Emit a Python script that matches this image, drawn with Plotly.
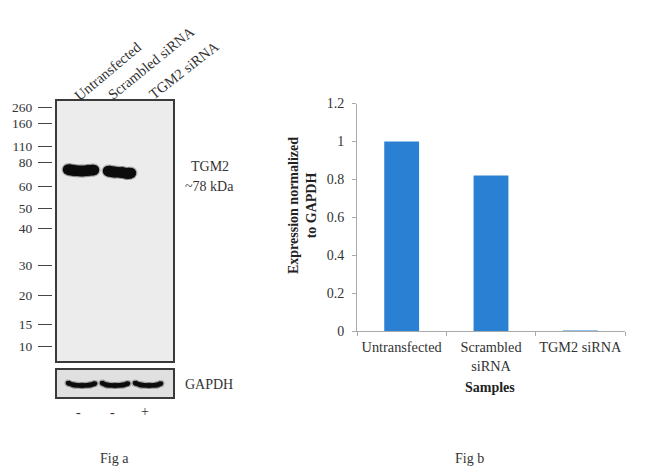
import plotly.graph_objects as go

W, H = 650, 475
# Bar chart
samples = ["Untransfected", "Scrambled<br>siRNA", "TGM2 siRNA"]
expression = [1.0, 0.82, -0.006]
bar_ticks = [0, 0.2, 0.4, 0.6, 0.8, 1, 1.2]
bar_tick_text = ["0", "0.2", "0.4", "0.6", "0.8", "1", "1.2"]

# Western blot: migration distance of each size marker (kDa)
marker_kda = ["260", "160", "110", "80", "60", "50", "40", "30", "20", "15", "10"]
marker_pos = [6, 22, 45, 61, 85, 107, 127, 164, 194, 223, 245]

# Bands: horizontal lane position and migration distance
tgm2_lane1_x = [11, 17, 25, 31, 37]
tgm2_lane1_y = [68.5, 69.5, 70, 69.5, 69]
tgm2_lane2_x = [51, 57, 65, 70, 74]
tgm2_lane2_y = [70, 71, 71.5, 72.5, 72]
gapdh_lane1_x = [11, 17, 25, 33, 38]
gapdh_lane2_x = [45, 50, 58, 66, 71]
gapdh_lane3_x = [78, 84, 92, 100, 104]
gapdh_y = [13, 15, 15.5, 15, 13.5]

PANEL_X = (57, 173)
BLOT_Y = (101, 361)
GAPDH_Y = (370, 397)
BAR_X = (357, 625)
BAR_Y = (103.5, 331)


def dx(p):
    return [p[0] / W, p[1] / W]


def dy(p):
    return [1 - p[1] / H, 1 - p[0] / H]


fig = go.Figure()


def band(x, y, ya, width, xa="x"):
    fig.add_trace(go.Scatter(x=x, y=y, xaxis=xa, yaxis=ya, mode="lines+markers", hoverinfo="skip",
                             line=dict(color="rgba(40,40,40,0.3)", width=width + 2.5, shape="spline"),
                             marker=dict(color="rgba(40,40,40,0.3)", size=width + 2.5, line_width=0)))
    fig.add_trace(go.Scatter(x=x, y=y, xaxis=xa, yaxis=ya, mode="lines+markers", hoverinfo="skip",
                             line=dict(color="#0c0c0c", width=width, shape="spline"),
                             marker=dict(color="#0c0c0c", size=width, line_width=0)))


band(tgm2_lane1_x, tgm2_lane1_y, "y", 10.5)
band(tgm2_lane2_x, tgm2_lane2_y, "y", 10.5)
band(gapdh_lane1_x, gapdh_y, "y4", 4.6, "x4")
band(gapdh_lane2_x, gapdh_y, "y4", 4.6, "x4")
band(gapdh_lane3_x, gapdh_y, "y4", 4.6, "x4")

fig.add_trace(go.Scatter(x=[0] * len(marker_pos), y=marker_pos, xaxis="x", yaxis="y2",
                         mode="markers", marker=dict(opacity=0), hoverinfo="skip"))

fig.add_trace(go.Bar(x=samples, y=expression, xaxis="x3", yaxis="y3", width=0.39,
                     marker=dict(color="#2a80d2", line=dict(color="#2a80d2", width=0)),
                     cliponaxis=False))
fig.add_trace(go.Scatter(x=[samples[2]], y=[expression[2]], xaxis="x3", yaxis="y3", mode="markers",
                         marker=dict(symbol="line-ew", size=35, line=dict(color="#333", width=1.2)),
                         cliponaxis=False, hoverinfo="skip"))

serif = "Liberation Serif"
frame = dict(showline=True, mirror=True, linecolor="#3a3a3a", linewidth=1.5, showgrid=False,
             zeroline=False, showticklabels=False, ticks="", automargin=False)

annos = []


def text(x, y, s, size=14, angle=0, color="#333", bold=False):
    annos.append(dict(x=x / W, y=1 - y / H, xref="paper", yref="paper",
                      text=f"<b>{s}</b>" if bold else s, showarrow=False,
                      font=dict(family=serif, size=size, color=color), textangle=angle,
                      xanchor="center", yanchor="middle"))


text(108, 71, "Untransfected", 14.5, -40)
text(151, 63, "Scrambled siRNA", 14.5, -39)
text(184, 70, "TGM2 siRNA", 14.5, -38)
text(210, 167, "TGM2")
text(209, 186, "~78 kDa")
text(209, 384, "GAPDH")
text(78, 412, "-")
text(112, 412, "-")
text(145, 411, "+")
text(114, 458, "Fig a", 14)
text(469, 458, "Fig b", 14)
text(490, 387, "Samples", 14, color="#222", bold=True)
text(302, 206, "Expression normalized<br>to GAPDH", 14, -90, color="#222", bold=True)

fig.update_layout(
    template="none",
    width=W, height=H, autosize=False, showlegend=False, bargap=0.6,
    margin=dict(l=0, r=0, t=0, b=0, pad=0), paper_bgcolor="white", plot_bgcolor="white",
    font=dict(family=serif, size=14, color="#333"),
    annotations=annos,
    shapes=[
        dict(type="rect", xref="x domain", yref="y domain", x0=0, x1=1, y0=0, y1=1,
             fillcolor="#ececec", line_width=0, layer="below"),
        dict(type="rect", xref="x4 domain", yref="y4 domain", x0=0, x1=1, y0=0, y1=1,
             fillcolor="#e0e0e0", line_width=0, layer="below"),
    ],
    xaxis=dict(domain=dx(PANEL_X), range=[0, 116], anchor="y", **frame),
    yaxis=dict(domain=dy(BLOT_Y), range=[260, 0], anchor="x", **frame),
    yaxis2=dict(domain=dy(BLOT_Y), range=[260, 0], overlaying="y", anchor="free", position=52 / W,
                side="left", tickmode="array", tickvals=marker_pos, ticktext=marker_kda,
                ticks="outside", ticklen=14, tickwidth=1.3, tickcolor="#444", showline=False,
                showgrid=False, zeroline=False, automargin=False, ticklabelstandoff=3,
                tickfont=dict(family=serif, size=13.5, color="#333")),
    xaxis4=dict(domain=dx(PANEL_X), range=[0, 116], anchor="y4", **frame),
    yaxis4=dict(domain=dy(GAPDH_Y), range=[27, 0], anchor="x4", **frame),
    xaxis3=dict(domain=dx(BAR_X), anchor="y3", type="category", tickson="boundaries", ticks="outside",
                ticklen=4, tickcolor="#aaa", linecolor="#aaa", showline=True, showgrid=False, zeroline=False,
                automargin=False, tickangle=0, ticklabelstandoff=3,
                tickfont=dict(family=serif, size=14.3, color="#333")),
    yaxis3=dict(domain=dy(BAR_Y), anchor="x3", range=[0, 1.2], tickmode="array", tickvals=bar_ticks,
                ticktext=bar_tick_text, ticks="outside", ticklen=4, tickcolor="#aaa", linecolor="#aaa",
                showline=True, showgrid=False, zeroline=False, automargin=False, ticklabelstandoff=5,
                tickfont=dict(family=serif, size=14, color="#333")),
)

fig.write_html("out.html", config={"displayModeBar": False},
               post_script="document.body.style.margin='0';document.body.style.overflow='hidden';")
